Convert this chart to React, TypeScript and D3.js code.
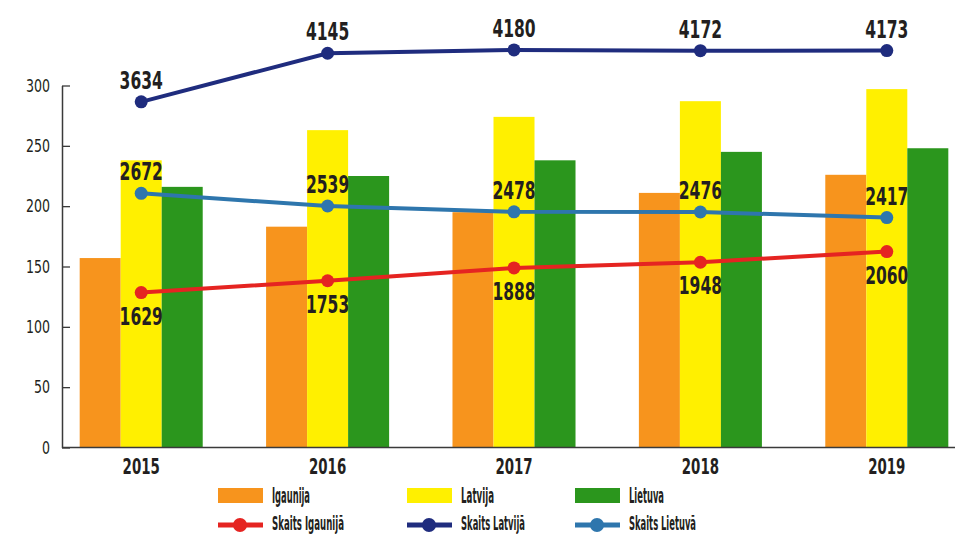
import React, { useRef, useEffect } from "react";
import * as d3 from "d3";

// bar values (left axis)
const years = ["2015", "2016", "2017", "2018", "2019"];
const igaunija = [157, 183, 195, 211, 226];
const latvija = [238, 263, 274, 287, 297];
const lietuva = [216, 225, 238, 245, 248];

// counts (hidden right scale)
const skaitsIgaunija = [1629, 1753, 1888, 1948, 2060];
const skaitsLatvija = [3634, 4145, 4180, 4172, 4173];
const skaitsLietuva = [2672, 2539, 2478, 2476, 2417];

const yTicks = [0, 50, 100, 150, 200, 250, 300];

const barNames = ["Igaunija", "Latvija", "Lietuva"];
const lineNames = ["Skaits Igaunijā", "Skaits Latvijā", "Skaits Lietuvā"];

const FONT = "'Liberation Sans Narrow', 'DejaVu Sans Condensed', 'Liberation Sans', sans-serif";

interface BarSeries {
  name: string;
  color: string;
  values: number[];
}
interface LineSeries {
  name: string;
  color: string;
  values: number[];
  labelBelow: boolean;
}

const bars: BarSeries[] = [
  { name: barNames[0], color: "#f7941d", values: igaunija },
  { name: barNames[1], color: "#fff000", values: latvija },
  { name: barNames[2], color: "#2b961d", values: lietuva },
];

const lines: LineSeries[] = [
  { name: lineNames[0], color: "#e52421", values: skaitsIgaunija, labelBelow: true },
  { name: lineNames[1], color: "#1f2c7e", values: skaitsLatvija, labelBelow: false },
  { name: lineNames[2], color: "#2e76ad", values: skaitsLietuva, labelBelow: false },
];

// squeeze text to the condensed look of the original
const squeeze = (sel: d3.Selection<any, any, any, any>, perChar: number) =>
  sel
    .attr("textLength", function () {
      return ((this as SVGTextElement).textContent || "").length * perChar;
    })
    .attr("lengthAdjust", "spacingAndGlyphs");

export default function App() {
  const ref = useRef<SVGSVGElement>(null);

  useEffect(() => {
    const svg = d3.select(ref.current);
    svg.selectAll("*").remove();

    const axisX = 62;
    const y0 = 447.5;

    const x = d3
      .scaleBand<string>()
      .domain(years)
      .range([48, 980])
      .paddingInner(0.34)
      .paddingOuter(0.17);
    const xSub = d3
      .scaleBand<string>()
      .domain(barNames)
      .range([0, x.bandwidth()]);
    const y = d3.scaleLinear().domain([0, 300]).range([y0, 85.5]);
    const y2 = d3.scaleLinear().domain([0, 4500]).range([y0, 19.5]);

    // bars
    const gBars = svg.append("g");
    bars.forEach((s) => {
      gBars
        .selectAll(null)
        .data(s.values)
        .join("rect")
        .attr("x", (_, i) => x(years[i])! + xSub(s.name)!)
        .attr("width", xSub.bandwidth())
        .attr("y", (d) => y(d))
        .attr("height", (d) => y0 - y(d))
        .attr("fill", s.color);
    });

    // left axis, ticks inward
    svg
      .append("g")
      .attr("transform", `translate(${axisX},0)`)
      .call(d3.axisLeft(y).tickValues(yTicks).tickSizeInner(-8).tickSizeOuter(0).tickPadding(12))
      .call((g) => g.select(".domain").attr("stroke", "#3a3a3a").attr("stroke-width", 1.5))
      .call((g) => g.selectAll(".tick line").attr("stroke", "#3a3a3a").attr("stroke-width", 1.3))
      .call((g) =>
        g
          .selectAll(".tick text")
          .attr("font-family", FONT)
          .attr("font-size", 18)
          .attr("fill", "#231f20")
          .call(squeeze, 8)
      );

    // baseline
    svg
      .append("line")
      .attr("x1", axisX)
      .attr("x2", 955)
      .attr("y1", y0)
      .attr("y2", y0)
      .attr("stroke", "#3a3a3a")
      .attr("stroke-width", 1.5);

    // year labels
    svg
      .append("g")
      .selectAll("text")
      .data(years)
      .join("text")
      .attr("x", (d) => x(d)! + x.bandwidth() / 2)
      .attr("y", 474)
      .attr("text-anchor", "middle")
      .attr("font-family", FONT)
      .attr("font-weight", "bold")
      .attr("font-size", 21)
      .attr("fill", "#231f20")
      .text((d) => d)
      .call(squeeze, 9.3);

    // lines
    const cx = (i: number) => x(years[i])! + x.bandwidth() / 2;
    const drawOrder = [lines[1], lines[2], lines[0]];
    drawOrder.forEach((s) => {
      const line = d3
        .line<number>()
        .x((_, i) => cx(i))
        .y((d) => y2(d));
      svg
        .append("path")
        .datum(s.values)
        .attr("d", line)
        .attr("fill", "none")
        .attr("stroke", s.color)
        .attr("stroke-width", 4);
      svg
        .append("g")
        .selectAll("circle")
        .data(s.values)
        .join("circle")
        .attr("cx", (_, i) => cx(i))
        .attr("cy", (d) => y2(d))
        .attr("r", 6.5)
        .attr("fill", s.color);
    });

    // value labels
    lines.forEach((s) => {
      svg
        .append("g")
        .selectAll("text")
        .data(s.values)
        .join("text")
        .attr("x", (_, i) => cx(i))
        .attr("y", (d) => y2(d) + (s.labelBelow ? 32 : -13))
        .attr("text-anchor", "middle")
        .attr("font-family", FONT)
        .attr("font-weight", "bold")
        .attr("font-size", 24)
        .attr("fill", "#231f20")
        .text((d) => d)
        .call(squeeze, 10.8);
    });

    // legend
    const legendX = [218, 407, 575];
    const legend = svg
      .append("g")
      .attr("font-family", FONT)
      .attr("font-weight", "bold")
      .attr("fill", "#231f20");
    bars.forEach((s, i) => {
      legend
        .append("rect")
        .attr("x", legendX[i])
        .attr("y", 488)
        .attr("width", 45)
        .attr("height", 15)
        .attr("fill", s.color);
      legend
        .append("text")
        .attr("x", legendX[i] + 54)
        .attr("y", 503)
        .attr("font-size", 21)
        .attr("textLength", [38, 33, 35][i])
        .attr("lengthAdjust", "spacingAndGlyphs")
        .text(s.name);
    });
    lines.forEach((s, i) => {
      legend
        .append("line")
        .attr("x1", legendX[i])
        .attr("x2", legendX[i] + 45)
        .attr("y1", 525)
        .attr("y2", 525)
        .attr("stroke", s.color)
        .attr("stroke-width", 5);
      legend
        .append("circle")
        .attr("cx", legendX[i] + 22)
        .attr("cy", 525)
        .attr("r", 7)
        .attr("fill", s.color);
      legend
        .append("text")
        .attr("x", legendX[i] + 54)
        .attr("y", 530)
        .attr("font-size", 19)
        .attr("textLength", [72, 64, 67][i])
        .attr("lengthAdjust", "spacingAndGlyphs")
        .text(s.name);
    });
  }, []);

  return (
    <svg
      ref={ref}
      width={955}
      height={535}
      style={{ position: "absolute", left: 0, top: 0, background: "#fff" }}
    />
  );
}
